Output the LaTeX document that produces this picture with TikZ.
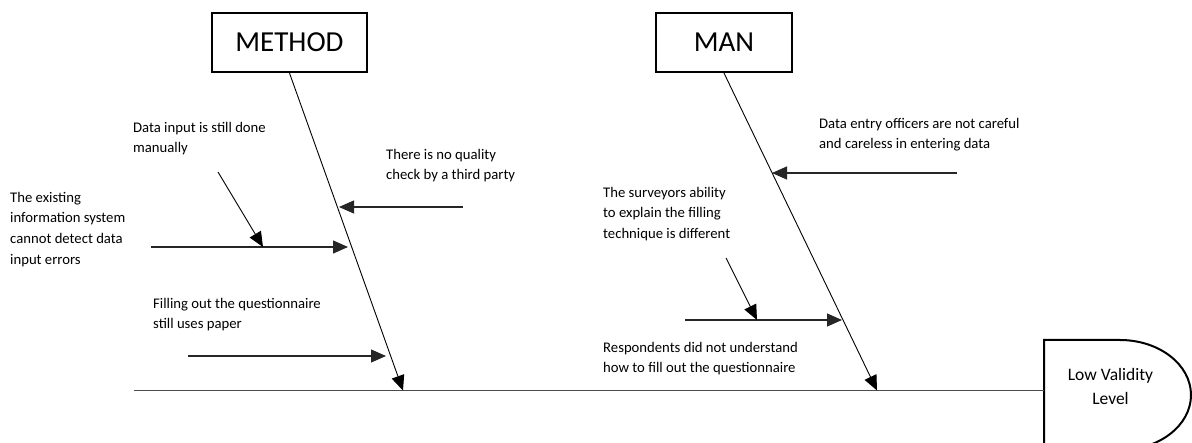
\documentclass[tikz,border=0pt]{standalone}
\usepackage{fontspec}
\setmainfont{Carlito}
\usetikzlibrary{arrows.meta}
\begin{document}
\begin{tikzpicture}[x=1pt,y=-1pt,
  catbox/.style={draw,line width=2.2pt,minimum width=155pt,minimum height=59pt,
    inner sep=0pt,font=\fontsize{29}{35}\selectfont},
  cause/.style={anchor=north west,align=left,inner sep=0pt,
    font=\fontsize{14.7}{20.6}\selectfont},
  bone/.style={line width=0.9pt,-{Triangle[length=15pt,width=13pt]}},
  rib/.style={line width=1.2pt,draw=black!85,-{Triangle[length=15pt,width=13pt]}},
  spine/.style={line width=1.5pt,draw=black!70},
]
\useasboundingbox (0,0) rectangle (1192,443);

% category boxes
\node[catbox] (method) at (289.5,42.5) {METHOD};
\node[catbox,minimum width=136pt] (man) at (724,42.5) {MAN};

% head of the fish
\coordinate (effect) at (1044,390.5);
\draw[line width=2pt] (1044,452) -- (1044,340) -- (1120,340)
  arc[start angle=-90,end angle=90,x radius=71,y radius=55] -- (1044,452);
\node[align=center,inner sep=0pt,anchor=north,font=\fontsize{17.5}{24}\selectfont]
  (lvl) at (1110.5,363.2) {\strut Low Validity\\Level};

% main spine
\coordinate (tail) at (134,390.5);
\coordinate (mtip) at (403,390.5);
\coordinate (atip) at (877,390.5);
\draw[spine] (tail) -- (effect);

% category bones
\draw[bone] (method.south) -- (mtip);
\draw[bone] (man.south) -- (atip);

% METHOD causes
\node[cause] (c1) at (133,117.6) {\strut Data input is still done\\manually};
\node[cause] (c2) at (386,144.6) {\strut There is no quality\\check by a third party};
\node[cause] (c3) at (10,187.6) {\strut The existing\\information system\\cannot detect data\\input errors};
\node[cause] (c4) at (153,293.6) {\strut Filling out the questionnaire\\still uses paper};

\coordinate (c2s) at (463,207);
\coordinate (c2e) at (339,207);
\draw[rib] (c2s) -- (c2e);

\coordinate (c3s) at (151,247);
\coordinate (c3e) at (348,247);
\coordinate (c1e) at (263,247);
\coordinate (c1s) at (218,172);
\draw[rib] (c3s) -- (c3e);
\draw[bone] (c1s) -- (c1e);

\coordinate (c4s) at (188,356);
\coordinate (c4e) at (386,356);
\draw[rib] (c4s) -- (c4e);

% MAN causes
\node[cause] (a1) at (819,113.6) {\strut Data entry officers are not careful\\and careless in entering data};
\node[cause] (a2) at (603,182.6) {\strut The surveyors ability\\to explain the filling\\technique is different};
\node[cause] (a3) at (603,337.6) {\strut Respondents did not understand\\how to fill out the questionnaire};

\coordinate (a1s) at (957,173);
\coordinate (a1e) at (772,173);
\draw[rib] (a1s) -- (a1e);

\coordinate (a3s) at (685,320);
\coordinate (a3e) at (842,320);
\coordinate (a2s) at (726,258);
\coordinate (a2e) at (757,320);
\draw[rib] (a3s) -- (a3e);
\draw[bone] (a2s) -- (a2e);
\end{tikzpicture}
\end{document}
